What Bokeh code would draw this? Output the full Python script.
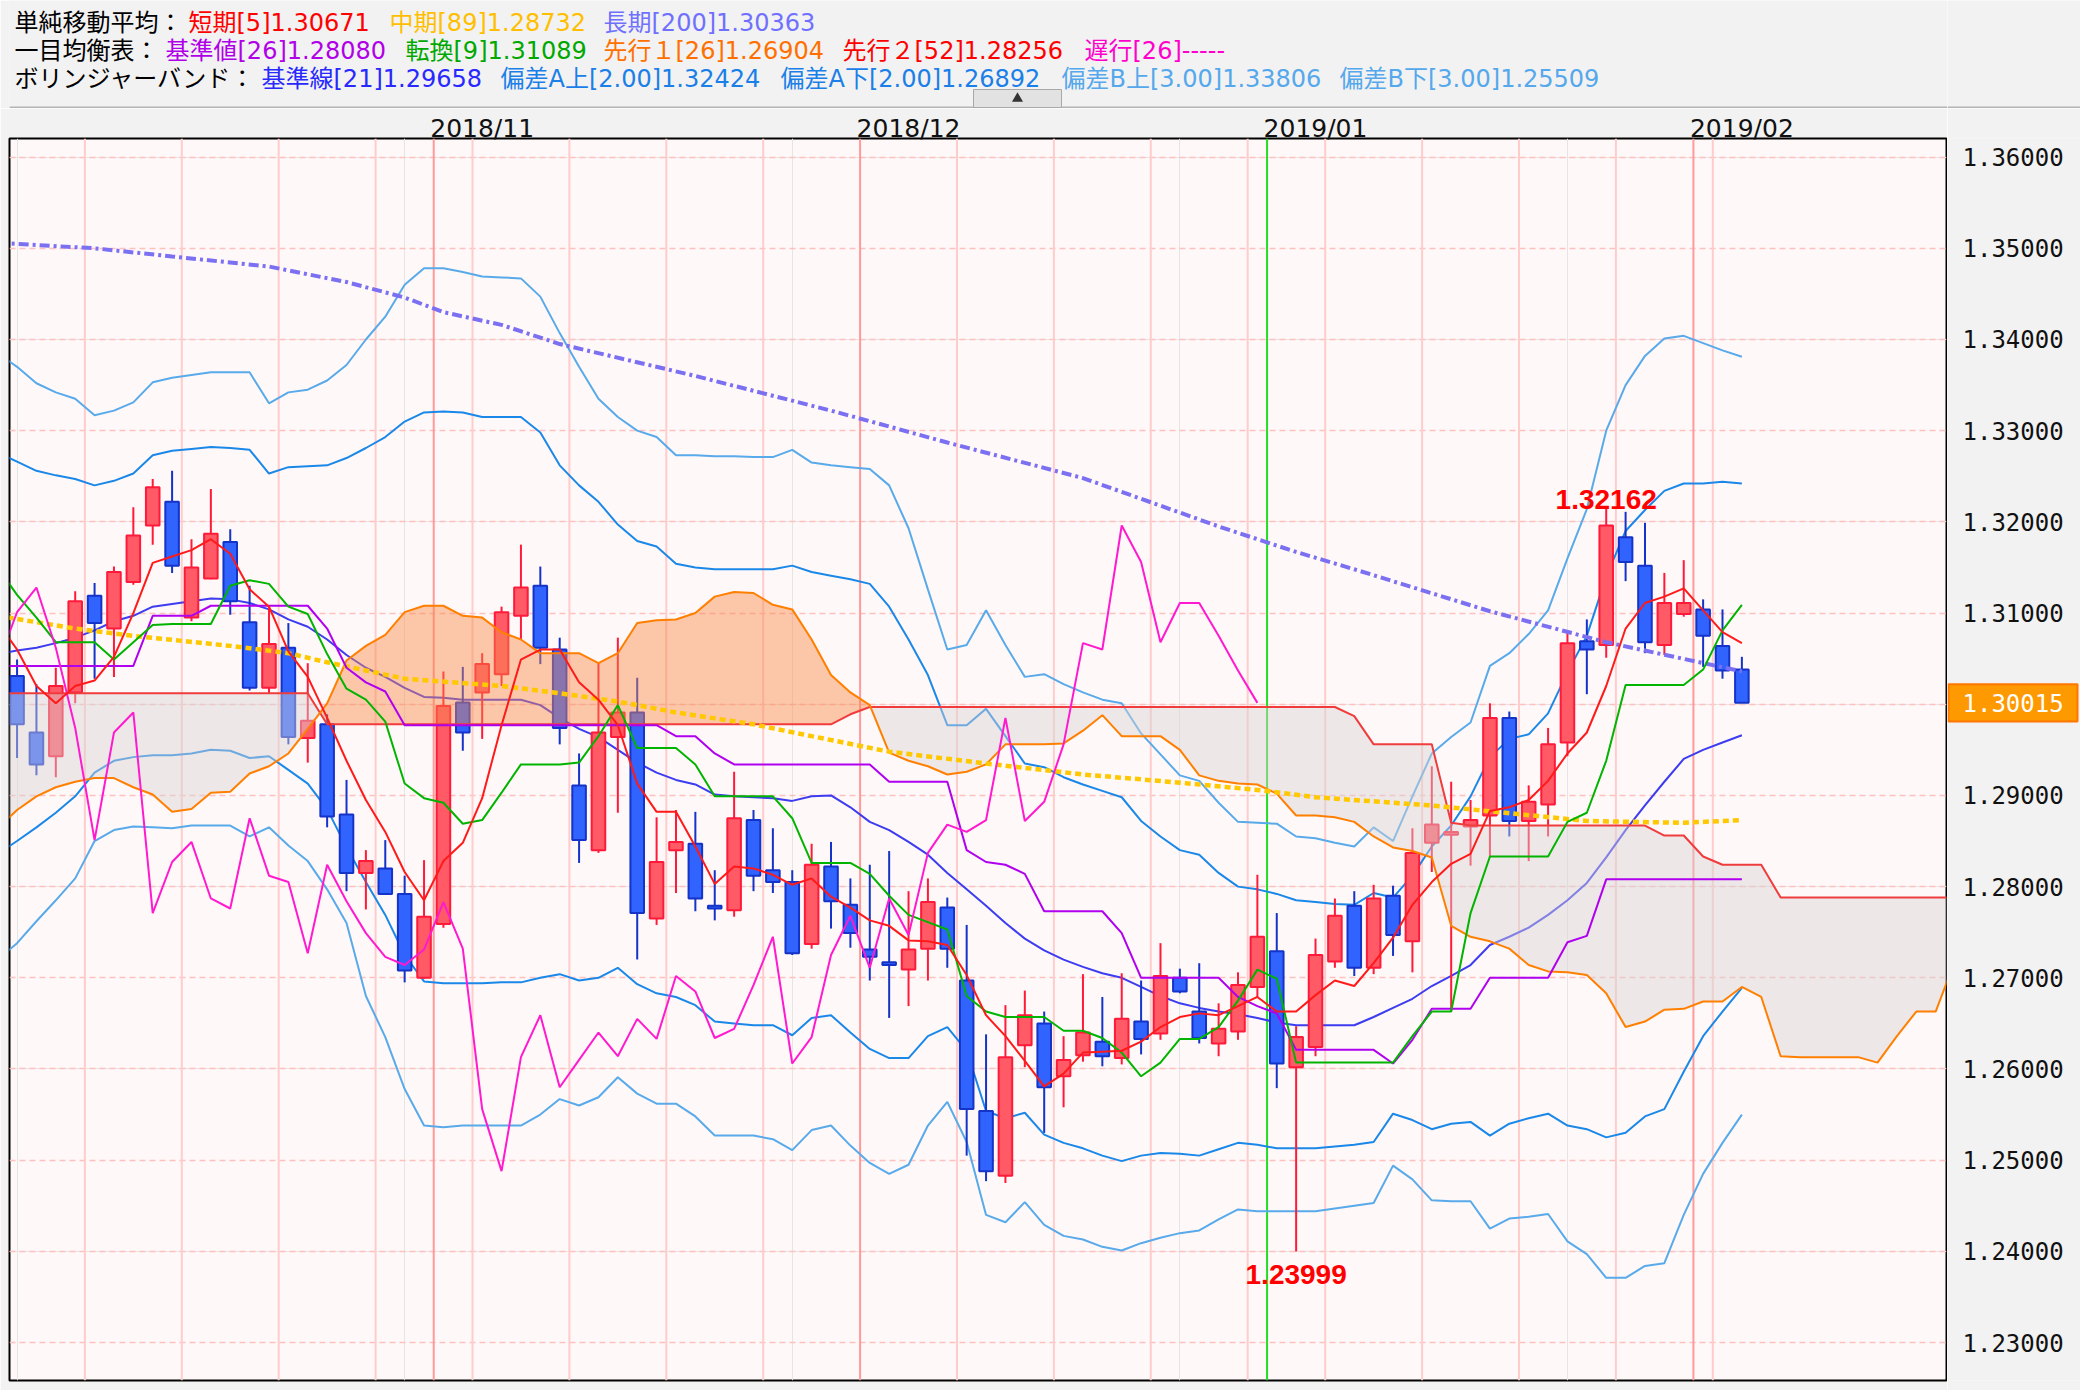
from bokeh.plotting import figure
from bokeh.models import Range1d, LinearAxis, FixedTicker, Span, Grid
from bokeh.layouts import column, row
from bokeh.embed import file_html
from bokeh.resources import INLINE
from bokeh.core.properties import value

# ---------------- data ----------------
opens = [1.3031, 1.2969, 1.2943, 1.3013, 1.3119, 1.3083, 1.3134, 1.3196, 1.3222, 1.3095,
         1.3138, 1.3178, 1.3090, 1.3018, 1.3062, 1.2963, 1.2978, 1.2879, 1.2815, 1.2820,
         1.2792, 1.2700, 1.2759, 1.3002, 1.3013, 1.3033, 1.3097, 1.3130, 1.3060, 1.2911,
         1.2840, 1.2964, 1.2991, 1.2765, 1.2840, 1.2847, 1.2779, 1.2774, 1.2873, 1.2818,
         1.2805, 1.2737, 1.2822, 1.2780, 1.2731, 1.2717, 1.2709, 1.2732, 1.2777, 1.2697,
         1.2554, 1.2483, 1.2626, 1.2650, 1.2592, 1.2615, 1.2630, 1.2612, 1.2652, 1.2639,
         1.2700, 1.2663, 1.2628, 1.2641, 1.2690, 1.2729, 1.2602, 1.2624, 1.2718, 1.2779,
         1.2711, 1.2790, 1.2740, 1.2848, 1.2857, 1.2866, 1.2878, 1.2985, 1.2872, 1.2890,
         1.2958, 1.3069, 1.3065, 1.3183, 1.3152, 1.3065, 1.3099, 1.3104, 1.3064, 1.3038]
highs = [1.3049, 1.3022, 1.3040, 1.3124, 1.3133, 1.3151, 1.3216, 1.3247, 1.3256, 1.3181,
         1.3236, 1.3192, 1.3130, 1.3107, 1.3089, 1.3045, 1.2989, 1.2917, 1.2840, 1.2851,
         1.2812, 1.2829, 1.3036, 1.3041, 1.3056, 1.3107, 1.3175, 1.3151, 1.3073, 1.2946,
         1.3046, 1.3073, 1.3029, 1.2876, 1.2884, 1.2882, 1.2818, 1.2926, 1.2884, 1.2864,
         1.2818, 1.2847, 1.2849, 1.2809, 1.2824, 1.2839, 1.2795, 1.2809, 1.2788, 1.2758,
         1.2638, 1.2670, 1.2686, 1.2663, 1.2636, 1.2704, 1.2679, 1.2705, 1.2697, 1.2738,
         1.2710, 1.2716, 1.2672, 1.2706, 1.2813, 1.2771, 1.2647, 1.2743, 1.2787, 1.2795,
         1.2802, 1.2801, 1.2864, 1.2932, 1.2915, 1.2895, 1.3001, 1.2992, 1.2911, 1.2974,
         1.3079, 1.3093, 1.32162, 1.3211, 1.3199, 1.3144, 1.3158, 1.3115, 1.3104, 1.3052]
lows = [1.2941, 1.2922, 1.2920, 1.3001, 1.3028, 1.3030, 1.3131, 1.3175, 1.3144, 1.3091,
        1.3137, 1.3098, 1.3015, 1.3012, 1.2956, 1.2936, 1.2865, 1.2795, 1.2775, 1.2791,
        1.2695, 1.2699, 1.2755, 1.2949, 1.2962, 1.3020, 1.3071, 1.3044, 1.2956, 1.2826,
        1.2837, 1.2881, 1.2720, 1.2758, 1.2793, 1.2773, 1.2763, 1.2767, 1.2795, 1.2793,
        1.2725, 1.2732, 1.2754, 1.2733, 1.2697, 1.2656, 1.2669, 1.2697, 1.2711, 1.2505,
        1.2477, 1.2475, 1.2602, 1.2530, 1.2558, 1.2608, 1.2603, 1.2605, 1.2616, 1.2632,
        1.2683, 1.2628, 1.2614, 1.2632, 1.2679, 1.2579, 1.23999, 1.2614, 1.2711, 1.2702,
        1.2704, 1.2724, 1.2706, 1.2816, 1.2663, 1.2823, 1.2832, 1.2855, 1.2828, 1.2855,
        1.2943, 1.3011, 1.3051, 1.3135, 1.3056, 1.3054, 1.3096, 1.3041, 1.3028, 1.30015]
closes = [1.2978, 1.2934, 1.3020, 1.3113, 1.3089, 1.3145, 1.3185, 1.3238, 1.3152, 1.3150,
          1.3187, 1.3113, 1.3018, 1.3066, 1.2964, 1.2982, 1.2877, 1.2815, 1.2828, 1.2792,
          1.2708, 1.2767, 1.2998, 1.2969, 1.3044, 1.3101, 1.3128, 1.3062, 1.2974, 1.2851,
          1.2969, 1.2991, 1.2771, 1.2827, 1.2849, 1.2787, 1.2776, 1.2875, 1.2812, 1.2805,
          1.2727, 1.2824, 1.2784, 1.2749, 1.2723, 1.2714, 1.2731, 1.2783, 1.2732, 1.2556,
          1.2488, 1.2613, 1.2659, 1.2580, 1.2610, 1.2640, 1.2614, 1.2655, 1.2633, 1.2702,
          1.2685, 1.2634, 1.2644, 1.2692, 1.2745, 1.2606, 1.2635, 1.2725, 1.2768, 1.2711,
          1.2787, 1.2747, 1.2837, 1.2868, 1.2860, 1.2873, 1.2985, 1.2872, 1.2893, 1.2956,
          1.3067, 1.3060, 1.3196, 1.3156, 1.3068, 1.3111, 1.3111, 1.3075, 1.3037, 1.30015]
marked_high_bar = 82
marked_low_bar = 66

# indicator series, one value per bar starting at bar -1
sma5 = [1.3090, 1.3060, 1.3020, 1.3001, 1.3020, 1.3026, 1.3052, 1.3100, 1.3155, 1.3162,
        1.3169, 1.3181, 1.3165, 1.3126, 1.3107, 1.3058, 1.3030, 1.2985, 1.2938, 1.2895,
        1.2860, 1.2816, 1.2785, 1.2828, 1.2848, 1.2897, 1.2977, 1.3049, 1.3060, 1.3060,
        1.3024, 1.3005, 1.2977, 1.2913, 1.2882, 1.2882, 1.2844, 1.2803, 1.2822, 1.2820,
        1.2813, 1.2802, 1.2809, 1.2789, 1.2777, 1.2763, 1.2757, 1.2741, 1.2740, 1.2736,
        1.2703, 1.2659, 1.2636, 1.2609, 1.2581, 1.2595, 1.2618, 1.2619, 1.2620, 1.2630,
        1.2646, 1.2657, 1.2661, 1.2659, 1.2669, 1.2679, 1.2663, 1.2663, 1.2681, 1.2697,
        1.2691, 1.2716, 1.2744, 1.2780, 1.2805, 1.2825, 1.2836, 1.2883, 1.2887, 1.2895,
        1.2916, 1.2946, 1.2969, 1.3020, 1.3083, 1.3111, 1.3118, 1.3127, 1.3103, 1.3079,
        1.3067]
kijun = ([1.3042] * 8 + [1.3097] * 3 + [1.3108] * 6 + [1.3083, 1.3040, 1.3024, 1.3014]
         + [1.2977] * 14 + [1.2965, 1.2965, 1.2946] + [1.2934] * 8 + [1.2915] * 4
         + [1.2840, 1.2827, 1.2824, 1.2814] + [1.2773] * 4 + [1.2749] + [1.2700] * 5
         + [1.2679, 1.2669, 1.2661] + [1.2621] * 5 + [1.2606, 1.2632] + [1.2666] * 3
         + [1.2700] * 4 + [1.2739, 1.2746] + [1.2808] * 8)
tenkan = [1.3150, 1.3120, 1.3095, 1.3068, 1.3068, 1.3068, 1.3049, 1.3068, 1.3087, 1.3088,
          1.3088, 1.3088, 1.3130, 1.3136, 1.3132, 1.3107, 1.3099, 1.3055, 1.3017, 1.3005,
          1.2981, 1.2913, 1.2897, 1.2892, 1.2869, 1.2873, 1.2903, 1.2934, 1.2934, 1.2934,
          1.2936, 1.2965, 1.2999, 1.2952, 1.2952, 1.2952, 1.2934, 1.2899, 1.2899, 1.2899,
          1.2899, 1.2875, 1.2826, 1.2826, 1.2826, 1.2814, 1.2790, 1.2769, 1.2761, 1.2753,
          1.2680, 1.2663, 1.2657, 1.2657, 1.2657, 1.2642, 1.2642, 1.2634, 1.2618, 1.2592,
          1.2607, 1.2633, 1.2633, 1.2646, 1.2675, 1.2709, 1.2699, 1.2607, 1.2607, 1.2607,
          1.2607, 1.2607, 1.2607, 1.2636, 1.2663, 1.2663, 1.2771, 1.2833, 1.2833, 1.2833,
          1.2833, 1.2871, 1.2881, 1.2938, 1.3021, 1.3021, 1.3021, 1.3021, 1.3038, 1.3081,
          1.3109]
bb_mid = [1.3055, 1.3059, 1.3062, 1.3067, 1.3073, 1.3081, 1.3091, 1.3097, 1.3107, 1.3110,
          1.3113, 1.3116, 1.3115, 1.3111, 1.3104, 1.3093, 1.3085, 1.3071, 1.3054, 1.3040,
          1.3030, 1.3018, 1.3008, 1.3007, 1.3005, 1.3005, 1.3005, 1.3005, 1.2999, 1.2985,
          1.2973, 1.2964, 1.2950, 1.2936, 1.2925, 1.2917, 1.2912, 1.2901, 1.2899, 1.2898,
          1.2897, 1.2894, 1.2899, 1.2900, 1.2887, 1.2871, 1.2862, 1.2849, 1.2835, 1.2815,
          1.2797, 1.2779, 1.2760, 1.2743, 1.2730, 1.2720, 1.2712, 1.2705, 1.2700, 1.2690,
          1.2680, 1.2672, 1.2667, 1.2663, 1.2660, 1.2656, 1.2651, 1.2648, 1.2648, 1.2648,
          1.2648, 1.2657, 1.2667, 1.2677, 1.2691, 1.2702, 1.2714, 1.2736, 1.2745, 1.2755,
          1.2769, 1.2785, 1.2804, 1.2832, 1.2862, 1.2889, 1.2915, 1.2940, 1.2950, 1.2958,
          1.2966]
bb_up2 = [1.3276, 1.3266, 1.3256, 1.3251, 1.3247, 1.3240, 1.3245, 1.3253, 1.3273, 1.3278,
          1.3280, 1.3282, 1.3281, 1.3279, 1.3253, 1.3260, 1.3261, 1.3262, 1.3270, 1.3281,
          1.3293, 1.3310, 1.3320, 1.3321, 1.3320, 1.3315, 1.3315, 1.3315, 1.3298, 1.3262,
          1.3240, 1.3222, 1.3197, 1.3179, 1.3173, 1.3154, 1.3150, 1.3148, 1.3148, 1.3148,
          1.3148, 1.3152, 1.3145, 1.3141, 1.3137, 1.3132, 1.3107, 1.3071, 1.3032, 1.2977,
          1.2977, 1.2995, 1.2965, 1.2935, 1.2931, 1.2920, 1.2912, 1.2905, 1.2898, 1.2872,
          1.2855, 1.2840, 1.2835, 1.2815, 1.2800, 1.2797, 1.2792, 1.2785, 1.2783, 1.2781,
          1.2780, 1.2793, 1.2788, 1.2812, 1.2844, 1.2867, 1.2899, 1.2942, 1.2962, 1.2967,
          1.2990, 1.3035, 1.3075, 1.3140, 1.3190, 1.3213, 1.3234, 1.3242, 1.3242, 1.3244,
          1.3242]
bb_lo2 = [1.2836, 1.2850, 1.2865, 1.2881, 1.2899, 1.2925, 1.2938, 1.2942, 1.2944, 1.2944,
          1.2946, 1.2950, 1.2949, 1.2941, 1.2943, 1.2928, 1.2913, 1.2885, 1.2843, 1.2805,
          1.2769, 1.2725, 1.2696, 1.2694, 1.2694, 1.2694, 1.2695, 1.2695, 1.2700, 1.2704,
          1.2697, 1.2700, 1.2711, 1.2693, 1.2683, 1.2679, 1.2670, 1.2652, 1.2650, 1.2648,
          1.2648, 1.2637, 1.2656, 1.2659, 1.2640, 1.2622, 1.2612, 1.2612, 1.2636, 1.2646,
          1.2620, 1.2554, 1.2546, 1.2552, 1.2528, 1.2519, 1.2513, 1.2505, 1.2499, 1.2505,
          1.2508, 1.2507, 1.2505, 1.2512, 1.2519, 1.2517, 1.2513, 1.2513, 1.2513, 1.2515,
          1.2517, 1.2520, 1.2551, 1.2544, 1.2534, 1.2540, 1.2542, 1.2527, 1.2540, 1.2546,
          1.2551, 1.2538, 1.2534, 1.2525, 1.2530, 1.2548, 1.2556, 1.2597, 1.2636, 1.2663,
          1.2689]
bb_up3 = [1.3385, 1.3370, 1.3352, 1.3342, 1.3335, 1.3317, 1.3322, 1.3331, 1.3353, 1.3358,
          1.3361, 1.3364, 1.3364, 1.3364, 1.3330, 1.3342, 1.3345, 1.3355, 1.3372, 1.3400,
          1.3425, 1.3460, 1.3478, 1.3478, 1.3474, 1.3469, 1.3468, 1.3467, 1.3447, 1.3407,
          1.3370, 1.3335, 1.3315, 1.3300, 1.3293, 1.3273, 1.3273, 1.3272, 1.3272, 1.3271,
          1.3271, 1.3279, 1.3265, 1.3262, 1.3260, 1.3258, 1.3240, 1.3193, 1.3126, 1.3060,
          1.3065, 1.3103, 1.3065, 1.3030, 1.3033, 1.3022, 1.3013, 1.3005, 1.3001, 1.2968,
          1.2945, 1.2922, 1.2916, 1.2892, 1.2871, 1.2870, 1.2869, 1.2855, 1.2853, 1.2848,
          1.2844, 1.2865, 1.2850, 1.2899, 1.2946, 1.2964, 1.2980, 1.3042, 1.3056, 1.3077,
          1.3103, 1.3160, 1.3214, 1.3300, 1.3350, 1.3382, 1.3401, 1.3404, 1.3396, 1.3388,
          1.3381]
bb_lo3 = [1.2720, 1.2738, 1.2762, 1.2785, 1.2809, 1.2850, 1.2862, 1.2866, 1.2865, 1.2864,
          1.2867, 1.2867, 1.2867, 1.2855, 1.2865, 1.2845, 1.2828, 1.2797, 1.2760, 1.2680,
          1.2635, 1.2578, 1.2538, 1.2536, 1.2538, 1.2538, 1.2538, 1.2538, 1.2550, 1.2567,
          1.2560, 1.2569, 1.2591, 1.2573, 1.2562, 1.2562, 1.2548, 1.2527, 1.2527, 1.2527,
          1.2523, 1.2511, 1.2533, 1.2538, 1.2516, 1.2497, 1.2485, 1.2495, 1.2538, 1.2564,
          1.2520, 1.2440, 1.2432, 1.2454, 1.2429, 1.2417, 1.2413, 1.2405, 1.2401, 1.2409,
          1.2415, 1.2420, 1.2423, 1.2435, 1.2446, 1.2444, 1.2444, 1.2444, 1.2444, 1.2447,
          1.2450, 1.2453, 1.2494, 1.2479, 1.2456, 1.2455, 1.2455, 1.2425, 1.2436, 1.2438,
          1.2441, 1.2411, 1.2397, 1.2371, 1.2371, 1.2384, 1.2387, 1.2440, 1.2485, 1.2519,
          1.2550]
# lagging span, bars -1 .. 64
chikou = [1.3044, 1.3101, 1.3128, 1.3062, 1.2974, 1.2851, 1.2969, 1.2991, 1.2771, 1.2827,
          1.2849, 1.2787, 1.2776, 1.2875, 1.2812, 1.2805, 1.2727, 1.2824, 1.2784, 1.2749,
          1.2723, 1.2714, 1.2731, 1.2783, 1.2732, 1.2556, 1.2488, 1.2613, 1.2659, 1.2580,
          1.2610, 1.2640, 1.2614, 1.2655, 1.2633, 1.2702, 1.2685, 1.2634, 1.2644, 1.2692,
          1.2745, 1.2606, 1.2635, 1.2725, 1.2768, 1.2711, 1.2787, 1.2747, 1.2837, 1.2868,
          1.2860, 1.2873, 1.2985, 1.2872, 1.2893, 1.2956, 1.3067, 1.3060, 1.3196, 1.3156,
          1.3068, 1.3111, 1.3111, 1.3075, 1.3037, 1.30015]
# leading spans, bars -1 .. 100
senkou_a = [1.2864, 1.2884, 1.2899, 1.2909, 1.2915, 1.2919, 1.2919, 1.2909, 1.2901, 1.2882,
            1.2885, 1.2903, 1.2904, 1.2924, 1.2932, 1.2946, 1.2973, 1.3001, 1.3048, 1.3064,
            1.3076, 1.3101, 1.3108, 1.3108, 1.3097, 1.3095, 1.3079, 1.3071, 1.3056, 1.3056,
            1.3056, 1.3045, 1.3056, 1.3089, 1.3092, 1.3093, 1.3100, 1.3118, 1.3123, 1.3122,
            1.3109, 1.3104, 1.3071, 1.3032, 1.3013, 1.2999, 1.2947, 1.2938, 1.2932, 1.2923,
            1.2926, 1.2934, 1.2956, 1.2956, 1.2956, 1.2957, 1.2971, 1.2988, 1.2965, 1.2965,
            1.2965, 1.2950, 1.2922, 1.2916, 1.2913, 1.2912, 1.2902, 1.2878, 1.2878, 1.2876,
            1.2871, 1.2855, 1.2843, 1.2839, 1.2832, 1.2757, 1.2745, 1.2740, 1.2732, 1.2714,
            1.2707, 1.2706, 1.2703, 1.2683, 1.2646, 1.2652, 1.2665, 1.2666, 1.2674, 1.2674,
            1.2690, 1.2679, 1.2614, 1.2613, 1.2613, 1.2613, 1.2613, 1.2607, 1.2636, 1.2663,
            1.2663, 1.2719]
senkou_b = ([1.3012] * 17 + [1.2978] * 27 + [1.2989] + [1.2997] * 25 + [1.2987]
            + [1.2956] * 4 + [1.2870] + [1.2867] * 10 + [1.2856] * 2 + [1.2833]
            + [1.2824] * 3 + [1.2788] * 10)
# moving averages (vertices)
sma89_x = [-1, 3, 6, 11, 14, 16, 20, 25, 28, 31, 34, 38, 41, 45, 50, 55, 60, 64, 67, 73, 81, 86, 89]
sma89 = [1.3097, 1.3083, 1.3075, 1.3064, 1.3056, 1.3046, 1.3028, 1.3020, 1.3012, 1.3003, 1.2991,
         1.2978, 1.2965, 1.2948, 1.2935, 1.2923, 1.2914, 1.2906, 1.2898, 1.2889, 1.2872, 1.2870, 1.2873]
sma200_x = [-1, 4, 8, 13, 17, 20, 22, 25, 28, 35, 42, 48, 55, 62, 66, 69, 76, 82, 89]
sma200 = [1.3506, 1.3500, 1.3491, 1.3480, 1.3463, 1.3446, 1.3430, 1.3416, 1.3395, 1.3360,
          1.3322, 1.3287, 1.3248, 1.3195, 1.3167, 1.3148, 1.3102, 1.3068, 1.3036]

week_starts = [4, 9, 14, 19, 24, 29, 34, 39, 49, 54, 59, 64, 68, 73, 78, 83, 88]
month_starts = [22, 44, 65, 87]
month_labels = ["2018/11", "2018/12", "2019/01", "2019/02"]
month_line_colors = ["#ff9a9a", "#ff9a9a", "#22dd22", "#ff9a9a"]
price_levels = [1.23, 1.24, 1.25, 1.26, 1.27, 1.28, 1.29, 1.30, 1.31, 1.32, 1.33, 1.34, 1.35, 1.36]

header_items = [
    (14, 22, "単純移動平均：", "#000000"),
    (188, 22, "短期[5]1.30671", "#ff0000"),
    (389, 22, "中期[89]1.28732", "#ffbf00"),
    (603, 22, "長期[200]1.30363", "#7070ff"),
    (14, 50, "一目均衡表：", "#000000"),
    (165, 50, "基準値[26]1.28080", "#b000e8"),
    (405, 50, "転換[9]1.31089", "#00a800"),
    (603, 50, "先行１[26]1.26904", "#ff7000"),
    (842, 50, "先行２[52]1.28256", "#ff0000"),
    (1084, 50, "遅行[26]-----", "#ff00cc"),
    (14, 78, "ボリンジャーバンド：", "#000000"),
    (261, 78, "基準線[21]1.29658", "#2828ff"),
    (500, 78, "偏差A上[2.00]1.32424", "#1a80e8"),
    (780, 78, "偏差A下[2.00]1.26892", "#1a80e8"),
    (1061, 78, "偏差B上[3.00]1.33806", "#55a8ec"),
    (1339, 78, "偏差B下[3.00]1.25509", "#55a8ec"),
]

# ---------------- layout geometry (page pixels) ----------------
W = 2080
HEADER_H = 108
MAIN_H = 1390 - HEADER_H
FRAME_L, FRAME_R = 9, 1946
LEFT_W = FRAME_R + 1          # width of the chart figure (frame + borders)
SIDE_W = W - LEFT_W           # price-scale column on the right
TOP_B, BOT_B = 138 - HEADER_H, 10
BG = "#f2f2f2"


def bare(fig):
    fig.background_fill_color = BG
    fig.border_fill_color = BG
    fig.outline_line_color = None
    fig.grid.visible = False
    return fig


# ---------------- header ----------------
hdr = bare(figure(width=LEFT_W, height=HEADER_H, x_range=Range1d(FRAME_L, LEFT_W),
                  y_range=Range1d(HEADER_H, 0), toolbar_location=None, output_backend="svg",
                  min_border_left=FRAME_L, min_border_right=0, min_border_top=0, min_border_bottom=0,
                  x_axis_location=None, y_axis_location=None))
hdr.text(x=[h[0] for h in header_items], y=[h[1] for h in header_items],
         text=[h[2] for h in header_items], text_color=[h[3] for h in header_items],
         text_font=value("DejaVu Sans, Noto Sans CJK JP"), text_font_size="24px",
         text_baseline="middle", text_align="left")
hdr.segment(x0=[FRAME_L], y0=[HEADER_H - 1], x1=[LEFT_W], y1=[HEADER_H - 1], line_color="#b4b4b4", line_width=2)
hdr.quad(left=[973], right=[1061], top=[89], bottom=[107], fill_color="#e2e2e2",
         line_color="#a8a8a8", line_width=1)
hdr.scatter(x=[1017], y=[98], marker="triangle", size=11, fill_color="#333333", line_color=None)

hdr_side = bare(figure(width=SIDE_W, height=HEADER_H, x_range=Range1d(LEFT_W, W),
                       y_range=Range1d(HEADER_H, 0), toolbar_location=None, output_backend="svg",
                       min_border=0, x_axis_location=None, y_axis_location=None))
hdr_side.segment(x0=[LEFT_W], y0=[HEADER_H - 1], x1=[W], y1=[HEADER_H - 1], line_color="#b4b4b4", line_width=2)

# ---------------- main chart ----------------
x_end = -0.39 + (FRAME_R - FRAME_L) / 19.38
p = figure(width=LEFT_W, height=MAIN_H, x_range=Range1d(-0.39, x_end), y_range=Range1d(1.22584, 1.36204),
           toolbar_location=None, output_backend="svg", x_axis_location=None, y_axis_location=None,
           min_border_left=FRAME_L, min_border_right=1, min_border_top=TOP_B, min_border_bottom=BOT_B)
p.background_fill_color = "#fff8f8"
p.border_fill_color = BG
p.outline_line_color = "black"
p.outline_line_width = 2

p.add_layout(Grid(dimension=1, ticker=FixedTicker(ticks=price_levels), grid_line_color="#ffc0c0",
                  grid_line_dash="6 4", grid_line_width=1.5))
for w in week_starts:
    p.add_layout(Span(location=w - 0.5, dimension="height", line_color="#ffcccc",
                      line_width=2, level="underlay"))
for m, c in zip(month_starts, month_line_colors):
    p.add_layout(Span(location=m - 0.5, dimension="height", line_color=c,
                      line_width=2, level="underlay"))

xticks = [m + 2 for m in month_starts]
xaxis = LinearAxis(ticker=FixedTicker(ticks=xticks),
                   major_label_overrides={t: lab for t, lab in zip(xticks, month_labels)},
                   major_tick_out=0, major_tick_in=0, minor_tick_out=0, minor_tick_in=0,
                   axis_line_color=None, major_label_standoff=-4,
                   major_label_text_font="DejaVu Sans", major_label_text_font_size="25px",
                   major_label_text_color="#111111")
p.add_layout(xaxis, "above")

lx = [i - 1 for i in range(len(sma5))]

# Bollinger bands
p.line(lx, bb_up3, line_color="#58aaea", line_width=2)
p.line(lx, bb_lo3, line_color="#58aaea", line_width=2)
p.line(lx, bb_up2, line_color="#1a88e8", line_width=2)
p.line(lx, bb_lo2, line_color="#1a88e8", line_width=2)
p.line(lx, bb_mid, line_color="#3c3cf0", line_width=2)

# candles
bars = list(range(len(closes)))
up = [c >= o for o, c in zip(opens, closes)]
body_fill = ["#ff5a66" if u else "#3163ff" for u in up]
body_line = ["#ff1a3a" if u else "#1433c8" for u in up]
p.segment(x0=bars, y0=lows, x1=bars, y1=highs, line_color=body_line, line_width=2)
p.vbar(x=bars, width=0.7, top=[max(o, c) for o, c in zip(opens, closes)],
       bottom=[min(o, c) for o, c in zip(opens, closes)],
       fill_color=body_fill, line_color=body_line, line_width=2)

# ichimoku cloud (split where spans cross)
sx = [i - 1 for i in range(len(senkou_a))]
pts = []
for i in range(len(sx)):
    pts.append((sx[i], senkou_a[i], senkou_b[i]))
    if i + 1 < len(sx):
        d0 = senkou_a[i] - senkou_b[i]
        d1 = senkou_a[i + 1] - senkou_b[i + 1]
        if d0 * d1 < 0:
            t = d0 / (d0 - d1)
            yc = senkou_a[i] + t * (senkou_a[i + 1] - senkou_a[i])
            pts.append((sx[i] + t, yc, yc))
pxs, pys, pcs = [], [], []


def finish(run, sign):
    if len(run) < 2 or sign == 0:
        return
    pxs.append([q[0] for q in run] + [q[0] for q in reversed(run)])
    pys.append([q[1] for q in run] + [q[2] for q in reversed(run)])
    pcs.append("#f98a4a" if sign > 0 else "#d6d3d2")


run, sign = [], 0
for q in pts:
    s = (q[1] > q[2]) - (q[1] < q[2])
    if s == 0:
        run.append(q)
        finish(run, sign)
        run, sign = [q], 0
    else:
        if sign == 0:
            sign = s
        run.append(q)
finish(run, sign)
p.patches(xs=pxs, ys=pys, fill_color=pcs, fill_alpha=0.45, line_color=None)

p.line(sx, senkou_b, line_color="#f03c3c", line_width=2)
p.line(sx, senkou_a, line_color="#ff7f00", line_width=2)

# moving averages
p.line(sma200_x, sma200, line_color="#7b6ff2", line_width=4, line_dash="10 4 3 4")
p.line(sma89_x, sma89, line_color="#ffc800", line_width=4.5, line_dash="6 4")

# ichimoku lines
p.line(lx, kijun, line_color="#b000f0", line_width=2)
p.line(lx, tenkan, line_color="#00b400", line_width=2)
p.line([i - 1 for i in range(len(chikou))], chikou, line_color="#ff1ad0", line_width=2)
p.line(lx, sma5, line_color="#ff1a1a", line_width=2)

# high / low markers
hb, lb = marked_high_bar, marked_low_bar
p.text(x=[hb], y=[highs[hb]], text=[f"{highs[hb]:.5f}"], text_color="#ff0000",
       text_font=value("Liberation Sans"), text_font_style="bold", text_font_size="28px",
       text_align="center", text_baseline="alphabetic", y_offset=-8)
p.text(x=[lb], y=[lows[lb]], text=[f"{lows[lb]:.5f}"], text_color="#ff0000",
       text_font=value("Liberation Sans"), text_font_style="bold", text_font_size="28px",
       text_align="center", text_baseline="alphabetic", y_offset=23)

# ---------------- price scale column ----------------
side = bare(figure(width=SIDE_W, height=MAIN_H, x_range=Range1d(LEFT_W, W), y_range=p.y_range,
                   toolbar_location=None, output_backend="svg", x_axis_location=None, y_axis_location=None,
                   min_border_left=0, min_border_right=0, min_border_top=TOP_B, min_border_bottom=BOT_B))
shown_levels = [v for v in price_levels if abs(v - closes[-1]) > 0.003]
side.text(x=[1962] * len(shown_levels), y=shown_levels, text=[f"{v:.5f}" for v in shown_levels],
          text_color="#111111", text_font=value("DejaVu Sans Mono"), text_font_size="24px",
          text_baseline="middle", text_align="left")
box_half = 0.00203
side.quad(left=[1948], right=[2077], bottom=[closes[-1] - box_half], top=[closes[-1] + box_half],
          fill_color="#ff9900", line_color="#ff7700", line_width=2)
side.text(x=[1962], y=[closes[-1]], text=[f"{closes[-1]:.5f}"], text_color="#ffffff",
          text_font=value("DejaVu Sans Mono"), text_font_size="24px",
          text_baseline="middle", text_align="left")

layout = column(row(hdr, hdr_side, spacing=0), row(p, side, spacing=0), spacing=0)
open("out.html", "w").write(file_html(layout, INLINE))
